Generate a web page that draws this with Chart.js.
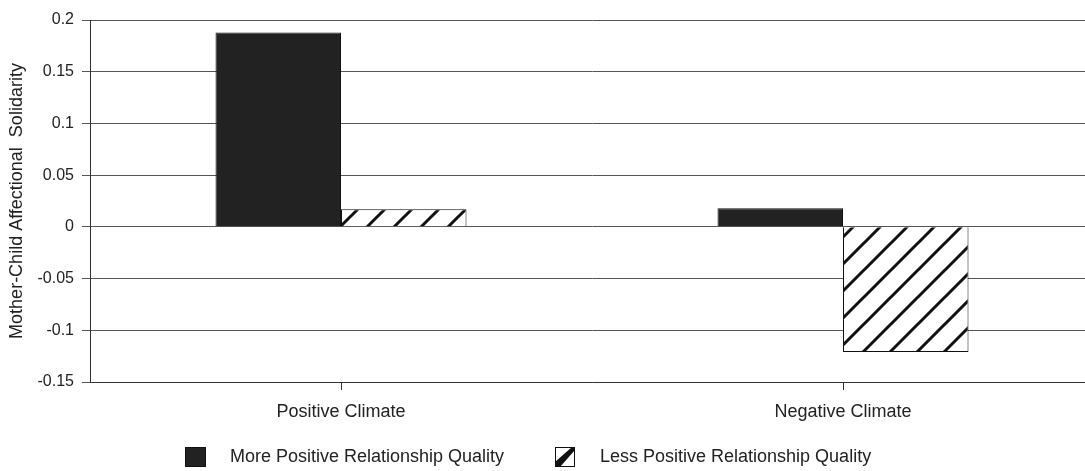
<!DOCTYPE html>
<html>
<head>
<meta charset="utf-8">
<script src="https://cdn.jsdelivr.net/npm/chart.js@4"></script>
<style>
  html, body { margin: 0; padding: 0; background: #fff; overflow: hidden; }
  #wrap { width: 1100px; height: 471px; }
</style>
</head>
<body>
<div id="wrap"><canvas id="chart" width="1100" height="471"></canvas></div>
<script>
var categories = ["Positive Climate", "Negative Climate"];
var more_positive = [0.188, 0.018];
var less_positive = [0.017, -0.121];
var series_names = ["More Positive Relationship Quality", "Less Positive Relationship Quality"];
var y_title = "Mother-Child Affectional  Solidarity";

var FONT = "'Liberation Sans', Arial, sans-serif";
var INK = "#222";

// diagonal hatch like the old excel fill
function hatch(size) {
    var c = document.createElement('canvas');
    c.width = size; c.height = size;
    var g = c.getContext('2d');
    g.fillStyle = '#fff';
    g.fillRect(0, 0, size, size);
    g.strokeStyle = '#111';
    g.lineWidth = 3;
    g.beginPath();
    g.moveTo(-2, size + 2); g.lineTo(size + 2, -2);
    g.moveTo(-2, 2); g.lineTo(2, -2);
    g.moveTo(size - 2, size + 2); g.lineTo(size + 2, size - 2);
    g.stroke();
    return g.createPattern(c, 'repeat');
}
var hatch_fill = hatch(27);

// legend drawn by hand so it sits where the scan has it
var legend_pos = [{box: 185, text: 230, w: 21, h: 20}, {box: 555, text: 600, w: 20, h: 20}];
var legendPlugin = {
    id: 'scanLegend',
    afterDraw: function(chart) {
        var ctx = chart.ctx;
        var cy = 457;
        chart.data.datasets.forEach(function(ds, i) {
            var p = legend_pos[i];
            ctx.save();
            ctx.fillStyle = i == 0 ? ds.backgroundColor : '#fff';
            ctx.fillRect(p.box, cy - p.h / 2, p.w, p.h);
            ctx.strokeStyle = '#111';
            ctx.lineWidth = 1;
            ctx.strokeRect(p.box + 0.5, cy - p.h / 2 + 0.5, p.w - 1, p.h - 1);
            if (i == 1) {
                // one stroke of the hatch, as in the scan
                ctx.fillStyle = '#111';
                ctx.beginPath();
                ctx.moveTo(p.box, cy + p.h / 2);
                ctx.lineTo(p.box, cy + p.h / 2 - 5);
                ctx.lineTo(p.box + p.w - 3, cy - p.h / 2);
                ctx.lineTo(p.box + p.w, cy - p.h / 2);
                ctx.lineTo(p.box + p.w, cy - p.h / 2 + 3);
                ctx.lineTo(p.box + 5, cy + p.h / 2);
                ctx.closePath();
                ctx.fill();
            }
            ctx.fillStyle = INK;
            ctx.font = "18px " + FONT;
            ctx.textBaseline = 'middle';
            ctx.fillText(ds.label, p.text, cy);
            ctx.restore();
        });
    }
};

var config = {
  type: 'bar',
  data: {
    labels: categories,
    datasets: [
      {
        label: series_names[0],
        data: more_positive,
        backgroundColor: '#222',
        borderColor: '#111',
        borderWidth: 1,
        barPercentage: 1.0,
        categoryPercentage: 0.5
      },
      {
        label: series_names[1],
        data: less_positive,
        backgroundColor: hatch_fill,
        borderColor: '#111',
        borderWidth: 1,
        barPercentage: 1.0,
        categoryPercentage: 0.5
      }
    ]
  },
  options: {
    responsive: false,
    animation: false,
    layout: {
      padding: {left: 6, top: 20, right: 6, bottom: 44}
    },
    plugins: {
      legend: {display: false},
      tooltip: {enabled: false}
    },
    scales: {
      x: {
        grid: {
          offset: false,
          drawOnChartArea: false,
          tickLength: 8,
          color: '#333'
        },
        border: {color: '#333', width: 1},
        ticks: {
          color: INK,
          padding: 11,
          maxRotation: 0,
          font: {family: FONT, size: 18}
        },
        afterFit: function(scale) { scale.height = 45; }
      },
      y: {
        min: -0.15,
        max: 0.2,
        grid: {
          color: '#555',
          tickLength: 8
        },
        border: {color: '#333', width: 1},
        ticks: {
          stepSize: 0.05,
          color: INK,
          padding: 8,
          font: {family: FONT, size: 16},
          callback: function(v) { return String(Math.round(v * 100) / 100); }
        },
        title: {
          display: true,
          text: y_title,
          color: INK,
          padding: {top: 0, bottom: 0},
          font: {family: FONT, size: 18}
        },
        afterFit: function(scale) { scale.width = 84; }
      }
    }
  },
  plugins: [legendPlugin]
};

(function() {
    new Chart(document.getElementById('chart'), config);
})();
</script>
</body>
</html>
